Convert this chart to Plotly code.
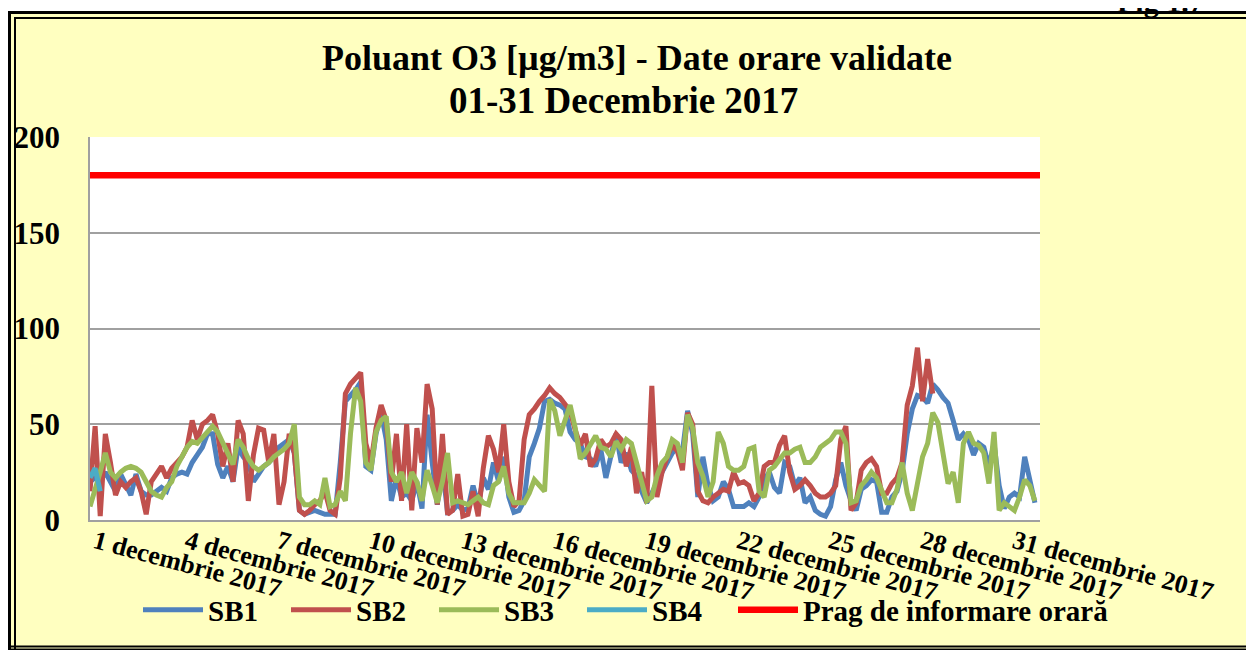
import pandas as pd
import plotly.graph_objects as go

# ---------------- data (4-hour readings, 1-31 Dec 2017) ----------------
sb1 = [
    20, 22, 20, 25, 20, 15,   24, 19, 13, 24, 15, 13,   13, 15, 17, 15, 22, 24,
    25, 24, 30, 34, 38, 45,   45, 29, 22, 28, 20, 38,   33, 30, 20, 24, 28, 30,
    33, 38, 40, 42, 35, 5,    3, 4, 5, 4, 3, 3,         3, 30, 62, 65, 68, 72,
    28, 26, 45, 56, 42, 10,   22, 12, 14, 10, 20, 6,    55, 30, 8, 28, 4, 5,
    8, 5, 6, 18, 8, 22,       16, 30, 20, 33, 12, 4,    5, 10, 33, 40, 48, 62,
    63, 61, 60, 58, 46, 42,   40, 33, 32, 28, 37, 22,   35, 45, 30, 35, 26, 23,
    15, 9, 14, 20, 25, 30,    35, 38, 36, 57, 45, 12,   33, 18, 10, 12, 20, 16,
    7, 7, 7, 9, 7, 12,        21, 25, 17, 14, 30, 28,   18, 22, 9, 12, 5, 3,
    2, 7, 21, 30, 18, 10,     5, 16, 18, 21, 20, 4,     4, 12, 15, 25, 45, 58,
    65, 64, 61, 71, 68, 64,   61, 52, 42, 45, 42, 34,   40, 38, 28, 40, 18, 6,
    12, 14, 12, 33, 20, 9,
]
sb2 = [
    15, 49, 2, 45, 30, 13,    20, 17, 20, 22, 15, 3,    20, 24, 28, 22, 27, 30,
    33, 38, 52, 42, 50, 52,   55, 45, 28, 40, 20, 52,   45, 10, 34, 48, 47, 30,
    45, 8, 20, 45, 35, 5,     3, 5, 8, 10, 15, 5,       3, 22, 66, 71, 74, 77,
    40, 30, 48, 60, 52, 20,   45, 10, 50, 5, 48, 30,    71, 58, 8, 45, 3, 5,
    24, 2, 3, 15, 2, 27,      44, 37, 25, 50, 20, 7,    10, 42, 55, 58, 62, 65,
    69, 66, 64, 60, 57, 47,   39, 45, 28, 32, 42, 38,   40, 45, 42, 28, 38, 14,
    25, 9, 70, 12, 25, 33,    39, 36, 26, 56, 50, 15,   10, 9, 12, 14, 16, 15,
    25, 19, 20, 18, 10, 14,   28, 30, 30, 39, 44, 25,   16, 18, 21, 18, 14, 12,
    12, 14, 18, 42, 49, 5,    9, 26, 30, 32, 28, 14,    14, 19, 22, 30, 60, 70,
    90, 62, 84, 66,
]
sb3 = [
    7, 15, 25, 35, 25, 22,    25, 27, 28, 27, 25, 20,   15, 13, 12, 17, 20, 28,
    33, 38, 41, 40, 43, 46,   49, 46, 40, 35, 29, 42,   38, 32, 28, 26, 28, 30,
    33, 35, 37, 40, 50, 12,   8, 8, 10, 8, 22, 7,       8, 15, 10, 45, 69, 62,
    30, 26, 46, 52, 54, 25,   20, 25, 14, 25, 20, 10,   26, 18, 9, 20, 35, 9,
    10, 9, 8, 10, 12, 9,      8, 18, 20, 28, 14, 9,     9, 9, 14, 21, 18, 15,
    63, 57, 44, 52, 60, 48,   32, 35, 40, 44, 38, 37,   33, 41, 37, 42, 40, 30,
    20, 10, 12, 23, 30, 33,   42, 40, 30, 55, 48, 30,   23, 12, 20, 46, 40, 28,
    26, 26, 28, 37, 38, 15,   12, 26, 28, 32, 35, 35,   37, 38, 30, 30, 33, 38,
    40, 42, 46, 46, 40, 9,    10, 18, 21, 25, 22, 16,   9, 9, 16, 30, 14, 5,
    18, 33, 40, 56, 51, 35,   19, 25, 9, 40, 46, 40,    39, 35, 19, 46, 5, 9,
    7, 5, 12, 21, 18, 10,
]
sb4 = [22, 27, 15]
prag_value = 180

tick_dates = ["2017-12-01", "2017-12-04", "2017-12-07", "2017-12-10", "2017-12-13",
              "2017-12-16", "2017-12-19", "2017-12-22", "2017-12-25", "2017-12-28",
              "2017-12-31"]
tick_labels = ["1 decembrie 2017", "4 decembrie 2017", "7 decembrie 2017",
               "10 decembrie 2017", "13 decembrie 2017", "16 decembrie 2017",
               "19 decembrie 2017", "22 decembrie 2017", "25 decembrie 2017",
               "28 decembrie 2017", "31 decembrie 2017"]
y_ticks = [0, 50, 100, 150, 200]

dates = pd.date_range("2017-12-01 00:00", periods=len(sb1), freq="4h")

# ---------------- figure ----------------
FONT = "Liberation Serif"
OFF = 8                       # page body margin
W, H = 1238, 642
L, R, T, B = 82, 206, 129, 130
PW, PH = W - L - R, H - T - B


def px(sx):
    """screen x -> paper x"""
    return (sx - OFF - L) / PW


def py(sy):
    """screen y -> paper y"""
    return (H - B - (sy - OFF)) / PH


fig = go.Figure()
series = [("SB1", sb1, "#4F81BD"), ("SB2", sb2, "#C0504D"),
          ("SB3", sb3, "#9BBB59"), ("SB4", sb4, "#4BACC6")]
for name, vals, col in series:
    fig.add_trace(go.Scatter(x=dates[:len(vals)], y=vals, name=name, mode="lines",
                             line=dict(color=col, width=5), legend="legend"))
fig.add_trace(go.Scatter(x=[pd.Timestamp("2017-12-01 00:00"), pd.Timestamp("2018-01-01 00:00")],
                         y=[prag_value, prag_value], name="Prag de informare orară",
                         mode="lines", line=dict(color="#FF0000", width=6.5), legend="legend2"))


def hline(sy, x0, x1, w):
    return dict(type="line", xref="paper", yref="paper", x0=px(x0), x1=px(x1),
                y0=py(sy), y1=py(sy), line=dict(color="black", width=w), layer="above")


def vline(sx, y0, y1, w):
    return dict(type="line", xref="paper", yref="paper", x0=px(sx), x1=px(sx),
                y0=py(y0), y1=py(y1), line=dict(color="black", width=w), layer="above")


shapes = [
    dict(type="rect", xref="paper", yref="paper", x0=px(-10), x1=px(1400), y0=py(11), y1=py(-10),
         fillcolor="white", line=dict(width=0), layer="above"),
    hline(12.5, 8, 1400, 3), vline(9.5, 11, 700, 3),
    hline(18, 14, 1400, 2), vline(15, 17, 700, 2),
    hline(646.5, 8, 1400, 2), hline(650, 8, 1400, 3),
]

annotations = [
    dict(text="Poluant O3 [µg/m3] - Date orare validate", x=px(637), y=py(58),
         xref="paper", yref="paper", showarrow=False, xanchor="center", yanchor="middle",
         font=dict(family=FONT, size=36, color="black", weight="bold")),
    dict(text="01-31 Decembrie 2017", x=px(623), y=py(100),
         xref="paper", yref="paper", showarrow=False, xanchor="center", yanchor="middle",
         font=dict(family=FONT, size=37, color="black", weight="bold")),
    dict(text="Fig 1.7", x=px(1160), y=py(1), xref="paper", yref="paper", showarrow=False,
         xanchor="center", yanchor="middle",
         font=dict(family=FONT, size=30, color="black", weight="bold")),
]

lfont = dict(family=FONT, size=29, color="black", weight="bold")
fig.update_layout(
    width=W, height=H,
    margin=dict(l=L, r=R, t=T, b=B, autoexpand=False),
    paper_bgcolor="#FFFFC0", plot_bgcolor="white",
    shapes=shapes, annotations=annotations,
    showlegend=True,
    legend=dict(orientation="h", x=px(138), y=py(610), xanchor="left", yanchor="middle",
                bgcolor="rgba(0,0,0,0)", itemwidth=60, entrywidth=73, font=lfont),
    legend2=dict(orientation="h", x=px(733), y=py(610), xanchor="left", yanchor="middle",
                 bgcolor="rgba(0,0,0,0)", itemwidth=60, font=lfont),
    xaxis=dict(type="date", range=["2017-12-01 00:00", "2018-01-01 00:00"],
               tickvals=tick_dates, ticktext=tick_labels, tickangle=15,
               tickfont=dict(family=FONT, size=26, color="black", weight="bold"),
               ticklabelshift=5, ticklabelstandoff=-5,
               showgrid=False, showline=True, linecolor="#A0A0A0", linewidth=1.5,
               ticks="", zeroline=False),
    yaxis=dict(range=[0, 200], tickvals=y_ticks, showgrid=True, gridcolor="#A0A0A0",
               gridwidth=1.5, showline=True, linecolor="#A0A0A0", linewidth=1.5,
               ticks="", ticklabelstandoff=22, zeroline=False,
               tickfont=dict(family=FONT, size=31, color="black", weight="bold")),
)

fig.write_html("out.html")
